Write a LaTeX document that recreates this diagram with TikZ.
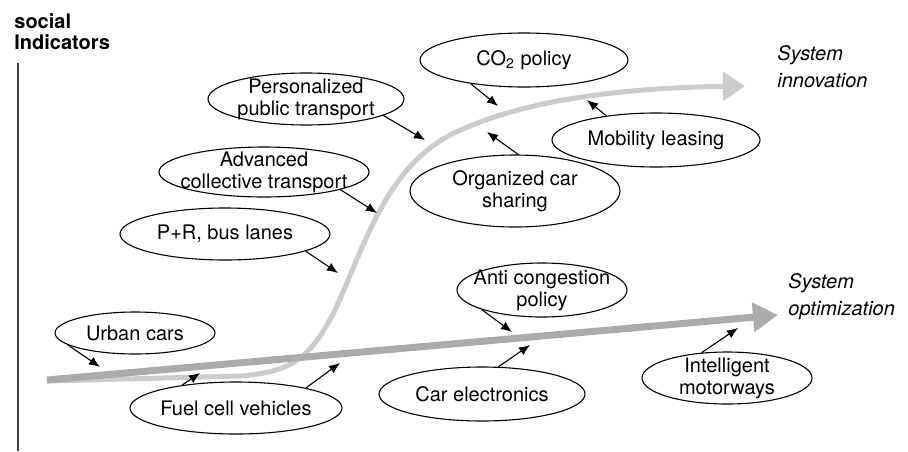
\documentclass[tikz,border=0pt]{standalone}
\usepackage{fontspec}
\setmainfont{TeX Gyre Heros}
\usetikzlibrary{arrows.meta,shapes.geometric}

\definecolor{optgray}{gray}{0.67}
\definecolor{inngray}{gray}{0.80}

\tikzset{
  oval/.style 2 args={ellipse, draw, line width=0.55pt, inner xsep=-12pt, inner ysep=-8pt,
    minimum width=#1, minimum height=#2, align=center},
  optline/.style={line width=3.5pt, draw=optgray, -{Triangle[length=12.5pt,width=14pt]}},
  innline/.style={line width=2.5pt, draw=inngray, -{Triangle[length=11pt,width=14pt]}},
  trendlabel/.style={anchor=west, align=left, inner sep=0pt, font=\itshape\fontsize{10}{13.5}\selectfont}
}

\begin{document}
\begin{tikzpicture}[x=0.5pt,y=-0.5pt,>={Latex[length=5.5pt,width=4.5pt]},font=\fontsize{10}{11}\selectfont]
   \useasboundingbox (0,0) rectangle (908,451);
   % axis
   \node[anchor=west, align=left, inner sep=0pt, font=\bfseries\fontsize{10}{10.5}\selectfont] (y_lab) at (14,32) {social\\Indicators};
   \coordinate (ax_top) at (18,63);
   \coordinate (ax_bot) at (18,451);
   \draw[line width=0.6pt, black!75] (ax_top) -- (ax_bot);

   % the two paths
   \coordinate (origin) at (47,380);
   \coordinate (inn_end) at (745,86);
   \coordinate (opt_end) at (778,315);
   \draw[innline] (47,381) -- (240,376) .. controls (290,372) and (310,360) .. (335,310)
        .. controls (365,245) and (385,170) .. (450,135)
        .. controls (520,100) and (620,88) .. (inn_end);
   \draw[optline] (origin) -- (opt_end);
   \node[trendlabel] (inn_lab) at (777,67) {System\\innovation};
   \node[trendlabel] (opt_lab) at (788,297) {System\\optimization};

   % measures
   \node[oval={98pt}{26pt}]  (s_pers)  at (306,99)  {Personalized\\public transport};
   \node[oval={105pt}{25pt}] (s_adv)   at (264,172) {Advanced\\collective transport};
   \node[oval={105pt}{26pt}] (s_pr)    at (225,234) {P+R, bus lanes};
   \node[oval={104pt}{27pt}] (s_co2)   at (524,60)  {CO\textsubscript{2} policy};
   \node[oval={104pt}{27pt}] (s_mob)   at (656,140) {Mobility leasing};
   \node[oval={105pt}{36pt}] (s_org)   at (515,191) {Organized car\\sharing};
   \node[oval={80pt}{21pt}]  (s_urban) at (135,333) {Urban cars};
   \node[oval={106pt}{26pt}] (s_fuel)  at (236,408) {Fuel cell vehicles};
   \node[oval={103pt}{27pt}] (s_elec)  at (482,394) {Car electronics};
   \node[oval={85pt}{27pt}]  (s_anti)  at (542,290) {Anti congestion\\policy};
   \node[oval={85pt}{26pt}]  (s_motor) at (727,378) {Intelligent\\motorways};

   % where the arrows hit the paths
   \coordinate (h_urban) at (100,367);
   \coordinate (h_fuel1) at (200,373);
   \coordinate (h_fuel2) at (340,363);
   \coordinate (h_elec)  at (530,345);
   \coordinate (h_anti)  at (512,332);
   \coordinate (h_motor) at (738,328);
   \coordinate (h_pr)    at (338,273);
   \coordinate (h_adv)   at (377,213);
   \coordinate (h_pers)  at (425,140);
   \coordinate (h_co2)   at (498,106);
   \coordinate (h_mob)   at (587,100);
   \coordinate (h_org)   at (487,132);

    \path[->, line width=0.55pt]
    (s_urban.190) edge (h_urban)
    (s_fuel.157)  edge (h_fuel1)
    (s_fuel.16)   edge (h_fuel2)
    (s_elec.59)   edge (h_elec)
    (s_anti.198)  edge (h_anti)
    (s_motor.135) edge (h_motor)
    (s_pr.348)    edge (h_pr)
    (s_adv.347)   edge (h_adv)
    (s_pers.348)  edge (h_pers)
    (s_co2.204)   edge (h_co2)
    (s_mob.154)   edge (h_mob)
    (s_org.85)    edge (h_org);
\end{tikzpicture}
\end{document}
